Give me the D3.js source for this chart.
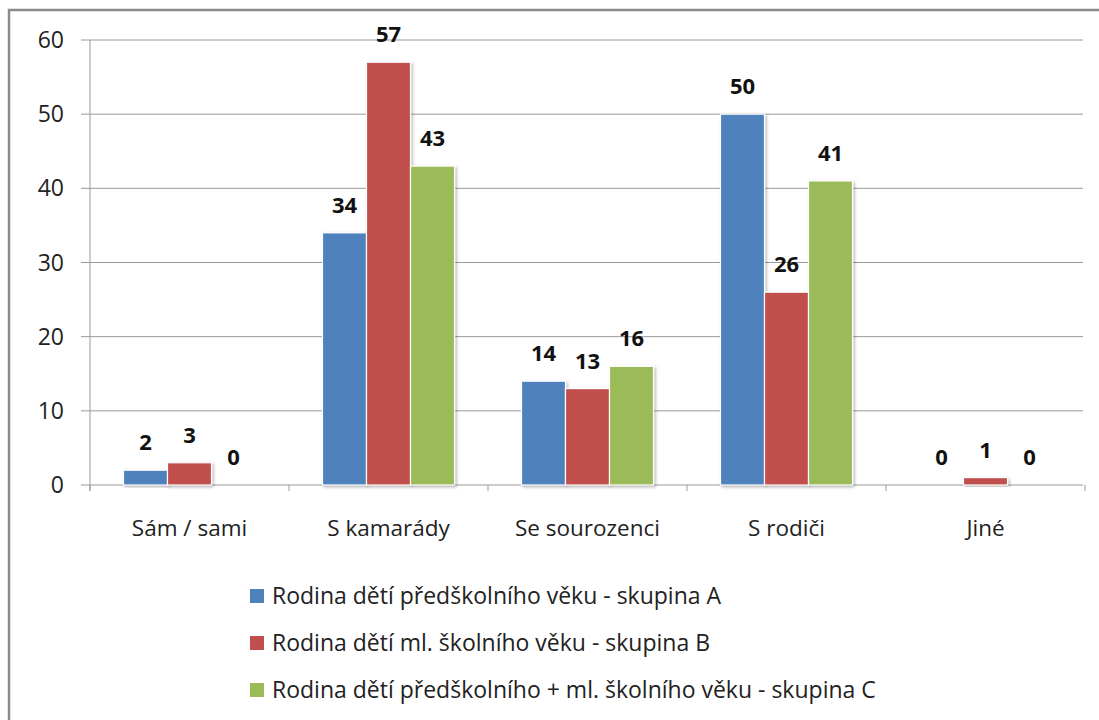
<!DOCTYPE html>
<html><head><meta charset="utf-8">
<script src="https://cdn.jsdelivr.net/npm/d3@7"></script>
<style>body{margin:0;background:#fff;} svg{display:block;}</style>
</head><body>
<script>
const categories = ["Sám / sami", "S kamarády", "Se sourozenci", "S rodiči", "Jiné"];
const seriesNames = [
  "Rodina dětí předškolního věku - skupina A",
  "Rodina dětí ml. školního věku - skupina B",
  "Rodina dětí předškolního + ml. školního věku - skupina C"
];
const seriesA = [2, 34, 14, 50, 0];
const seriesB = [3, 57, 13, 26, 1];
const seriesC = [0, 43, 16, 41, 0];
const yTicks = [0, 10, 20, 30, 40, 50, 60];
const colors = ["#4f81bd", "#c0504d", "#9bbb59"];

const W = 1099, H = 720;
const font = "'Open Sans', sans-serif";
const svg = d3.select("body").append("svg").attr("width", W).attr("height", H);

const defs = svg.append("defs");
const f = defs.append("filter").attr("id","sh").attr("x","-20%").attr("y","-20%").attr("width","140%").attr("height","140%");
f.append("feDropShadow").attr("dx",1.5).attr("dy",1.5).attr("stdDeviation",1.5).attr("flood-color","#000").attr("flood-opacity",0.3);

// outer frame
svg.append("path").attr("d","M9,720 V10 H1099").attr("fill","none").attr("stroke","#8a8a8a").attr("stroke-width",2.5);

const x0 = 90, x1 = 1085, yTop = 40, yBot = 485;
const x = d3.scaleBand().domain(categories).range([x0, x1]).paddingInner(0).paddingOuter(0);
const xs = d3.scaleBand().domain([0,1,2]).range([0, x.bandwidth()]).paddingOuter(0.761).paddingInner(0);
const y = d3.scaleLinear().domain([0, 60]).range([yBot, yTop]);

// gridlines
svg.append("g").selectAll("line").data(yTicks).join("line")
  .attr("x1", x0 - 9).attr("x2", x1 - 2)
  .attr("y1", d => y(d)).attr("y2", d => y(d))
  .attr("stroke", "#9a9a9a").attr("stroke-width", 1);

// y axis line
svg.append("line").attr("x1", x0).attr("x2", x0).attr("y1", yTop).attr("y2", yBot + 6)
  .attr("stroke", "#9a9a9a");
// x category ticks
const bounds = categories.map(c => x(c)).concat([x1]);
svg.append("g").selectAll("line").data(bounds).join("line")
  .attr("x1", d => d).attr("x2", d => d).attr("y1", yBot).attr("y2", yBot + 6)
  .attr("stroke", "#9a9a9a");

// y tick labels
svg.append("g").selectAll("text").data(yTicks).join("text")
  .attr("x", 64).attr("y", d => y(d)).attr("dy", "0.35em")
  .attr("text-anchor", "end").attr("font-family", font).attr("font-size", 23).attr("fill", "#222")
  .text(d => d);

// bars
const series = [seriesA, seriesB, seriesC];
series.forEach((vals, si) => {
  const g = svg.append("g");
  g.selectAll("rect").data(vals.map((v,i)=>({v, c: categories[i]})).filter(d => d.v > 0)).join("rect")
    .attr("x", d => x(d.c) + xs(si))
    .attr("width", xs.bandwidth())
    .attr("y", d => y(d.v))
    .attr("height", d => y(0) - y(d.v))
    .attr("fill", colors[si]).attr("stroke", "#fff").attr("stroke-width", 1.2)
    .attr("filter", "url(#sh)");
  g.selectAll("text").data(vals.map((v,i)=>({v, c: categories[i]}))).join("text")
    .attr("x", d => x(d.c) + xs(si) + xs.bandwidth()/2)
    .attr("y", d => y(d.v) - 20)
    .attr("text-anchor", "middle").attr("font-family", font).attr("font-weight", "bold")
    .attr("font-size", 22).attr("fill", "#111")
    .text(d => d.v);
});

// category labels
svg.append("g").selectAll("text").data(categories).join("text")
  .attr("x", d => x(d) + x.bandwidth()/2).attr("y", 528).attr("dy","0.35em")
  .attr("text-anchor", "middle").attr("font-family", font).attr("font-size", 22.5).attr("fill", "#222")
  .text(d => d);

// legend
const lg = svg.append("g");
seriesNames.forEach((n, i) => {
  const ly = 596 + i * 47;
  lg.append("rect").attr("x", 250).attr("y", ly - 7).attr("width", 14).attr("height", 14).attr("fill", colors[i]);
  lg.append("text").attr("x", 272).attr("y", ly).attr("dy","0.35em")
    .attr("font-family", font).attr("font-size", 23).attr("fill", "#222").text(n);
});
</script>
</body></html>
